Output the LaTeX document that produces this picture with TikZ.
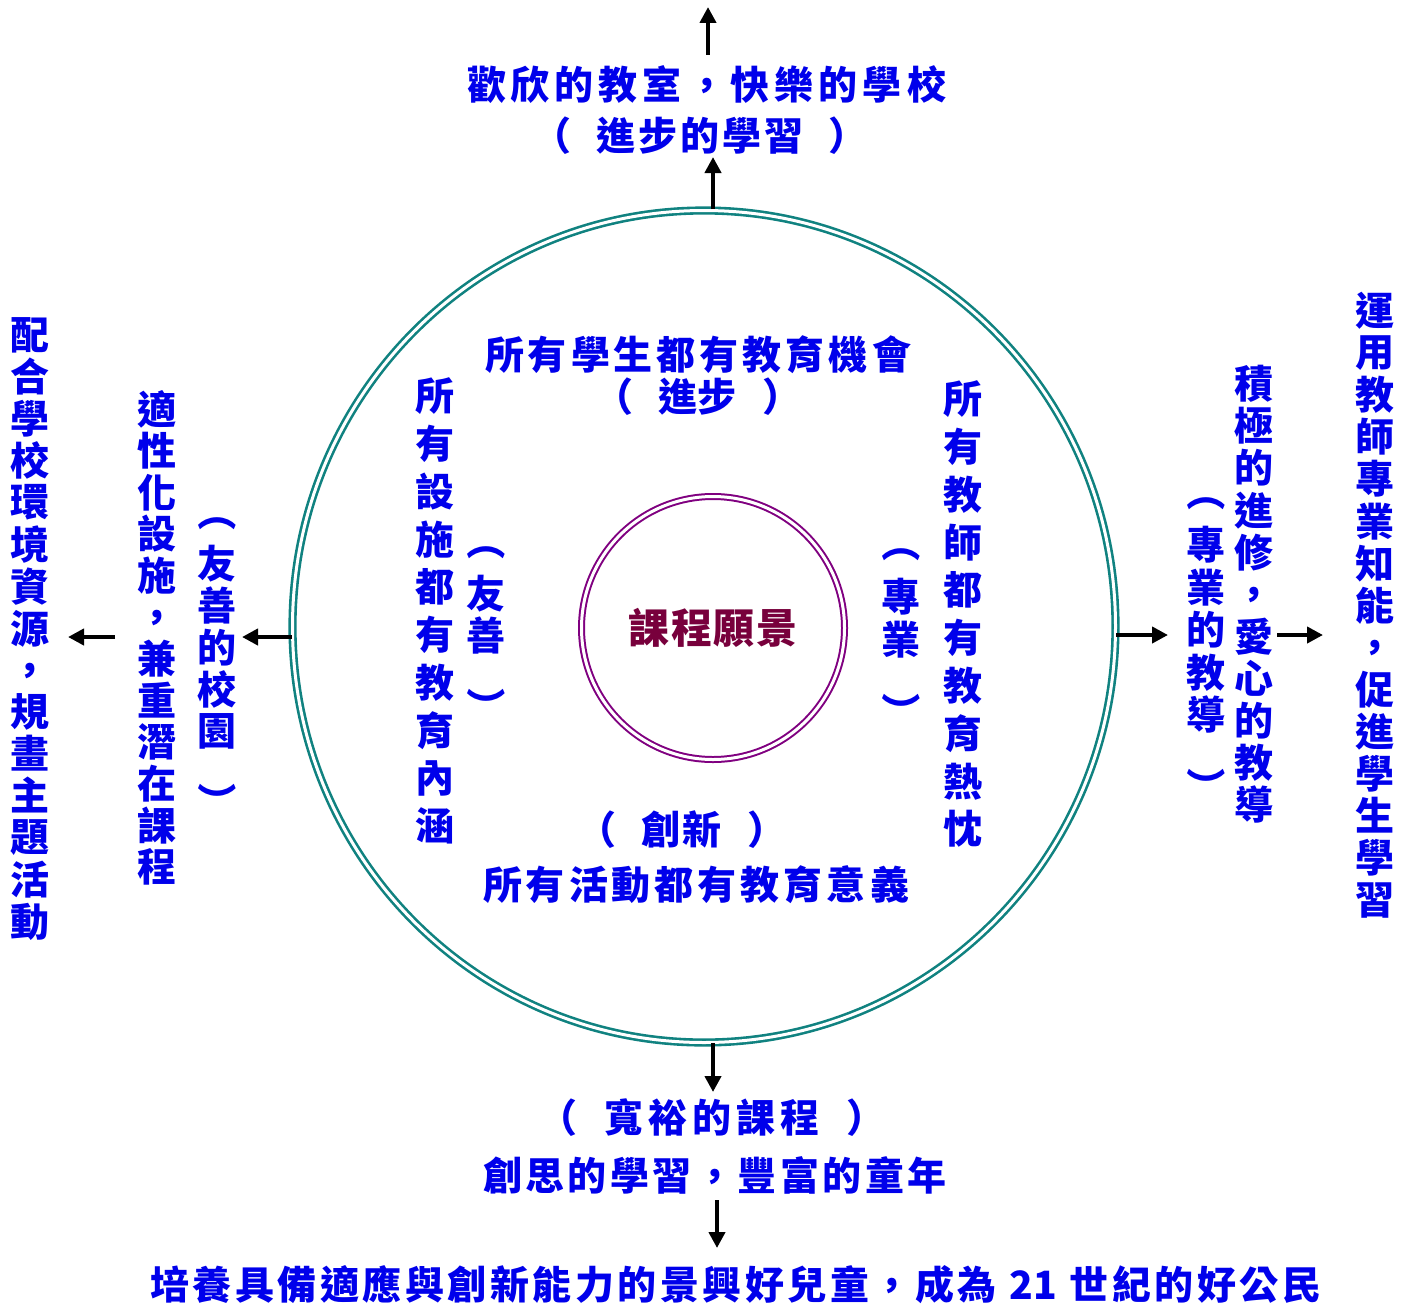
\documentclass[tikz,border=0pt]{standalone}
\usepackage{fontspec}
\usepackage{graphicx}
\setmainfont{Noto Sans CJK TC}
\usetikzlibrary{arrows.meta,shapes.geometric}
\definecolor{tblue}{RGB}{0,0,235}
\definecolor{ringteal}{RGB}{16,130,128}
\definecolor{ringpurple}{RGB}{128,0,128}
\definecolor{visionred}{RGB}{120,0,60}
\newdimen\hpitch \newdimen\vpitch \newdimen\gapw \newdimen\gapa \newdimen\gapb
\gapa=10.5pt \gapb=29.5pt
\def\gp{GAP}
\def\va{GAPA}
\def\vb{GAPB}
% vertical parentheses: full-width parentheses turned a quarter turn
\def\vpo{\raisebox{0.88em}[0.88em][0.12em]{\rotatebox{-90}{（}}}
\def\vpc{\raisebox{0.88em}[0.88em][0.12em]{\rotatebox{-90}{）}}}
\makeatletter
\newcommand\hs[3][0pt]{\gapw=#1\relax\hpitch=#2\relax\hbox{\hs@l#3\relax}}
\def\hs@l#1{\ifx#1\relax\else\ifx#1\gp\kern\gapw\else\hbox to\hpitch{\hss#1\hss}\fi\expandafter\hs@l\fi}
\newcommand\vs[2]{\vpitch=#1\relax\vbox{\offinterlineskip\vs@l#2\relax}}
\def\vs@l#1{\ifx#1\relax\else\vs@item#1\expandafter\vs@l\fi}
\def\vs@item#1{\ifx#1\va\vskip\gapa\else\ifx#1\vb\vskip\gapb\else\hbox to 1.1em{\hss\vbox to\vpitch{\vss\hbox{\vphantom{國}#1}\vss}\hss}\fi\fi}
\makeatother
\begin{document}
\begin{tikzpicture}[x=1pt,y=-1pt,
  txt/.style={inner sep=0pt,outer sep=0pt,text=tblue,font=\fontsize{39}{39}\selectfont\bfseries},
  arr/.style={line width=4pt,-{Triangle[width=16pt,length=16pt]}},
  ring/.style={draw=ringteal,line width=2.6pt,double=white,double distance=3pt,ellipse,inner sep=0pt,outer sep=0pt},
  core/.style={draw=ringpurple,line width=2pt,double=white,double distance=3pt,circle,inner sep=0pt,outer sep=0pt}]
\useasboundingbox[fill=white] (0,0) rectangle (1410,1306);
% rings
\node[ring,minimum width=823pt,minimum height=832pt] (outer) at (704,626.5) {};
\node[core,minimum size=263pt,text=visionred,font=\fontsize{41}{41}\selectfont\bfseries] (vision) at (713,628) {\hs{42.7pt}{課程願景}};
% top
\node[txt] (t1) at (706.5,85) {\hs{44pt}{歡欣的教室，快樂的學校}};
\node[txt] (t2) at (700,136) {\hs[22pt]{42pt}{（\gp 進步的學習\gp ）}};
% inside
\node[txt] (in1) at (698,355) {\hs{43pt}{所有學生都有教育機會}};
\node[txt] (in2) at (698,397) {\hs[26pt]{39pt}{（\gp 進步\gp ）}};
\node[txt] (in3) at (682,830) {\hs[24pt]{41pt}{（\gp 創新\gp ）}};
\node[txt] (in4) at (696,885) {\hs{43pt}{所有活動都有教育意義}};
\node[txt] (inl) at (434.5,611) {\vs{47.8pt}{所有設施都有教育內涵}};
\node[txt] (inr) at (962.5,614) {\vs{47.8pt}{所有教師都有教育熱忱}};
\node[txt] (inl2) at (486,624) {\vs{42pt}{\vpo\va 友善\vb\vpc}};
\node[txt] (inr2) at (901,627.5) {\vs{43pt}{\vpo\va 專業\vb\vpc}};
% left
\node[txt] (l3) at (217,657) {\vs{41.75pt}{\vpo\va 友善的校園\vb\vpc}};
\node[txt] (l2) at (157,638) {\vs{41.6pt}{適性化設施，兼重潛在課程}};
\node[txt] (l1) at (30,628.5) {\vs{41.9pt}{配合學校環境資源，規畫主題活動}};
% right
\node[txt] (r3) at (1206,639.5) {\vs{42.5pt}{\vpo\va 專業的教導\vb\vpc}};
\node[txt] (r2) at (1254,594.5) {\vs{42.1pt}{積極的進修，愛心的教導}};
\node[txt] (r1) at (1375,605.5) {\vs{42.1pt}{運用教師專業知能，促進學生學習}};
% bottom
\node[txt] (b1) at (712,1118) {\hs[22pt]{44pt}{（\gp 寬裕的課程\gp ）}};
\node[txt] (b2) at (715,1175) {\hs{42.5pt}{創思的學習，豐富的童年}};
\node[txt] (b3) at (736,1285) {\hs{42.5pt}{培養具備適應與創新能力的景興好兒童，成為}\kern11pt 21\kern11pt\hs{42.5pt}{世紀的好公民}};
% arrow end points
\coordinate (a1s) at (708,55);  \coordinate (a1e) at (708,7);
\coordinate (a2s) at (713,209); \coordinate (a2e) at (713,157);
\coordinate (a3s) at (292,637); \coordinate (a3e) at (242,637);
\coordinate (a4s) at (115,637); \coordinate (a4e) at (68,637);
\coordinate (a5s) at (1116,635); \coordinate (a5e) at (1168,635);
\coordinate (a6s) at (1277,635); \coordinate (a6e) at (1323,635);
\coordinate (a7s) at (713,1043); \coordinate (a7e) at (713,1092);
\coordinate (a8s) at (717,1200); \coordinate (a8e) at (717,1248);
\foreach \i in {1,...,8} \draw[arr] (a\i s) -- (a\i e);
\end{tikzpicture}
\end{document}
